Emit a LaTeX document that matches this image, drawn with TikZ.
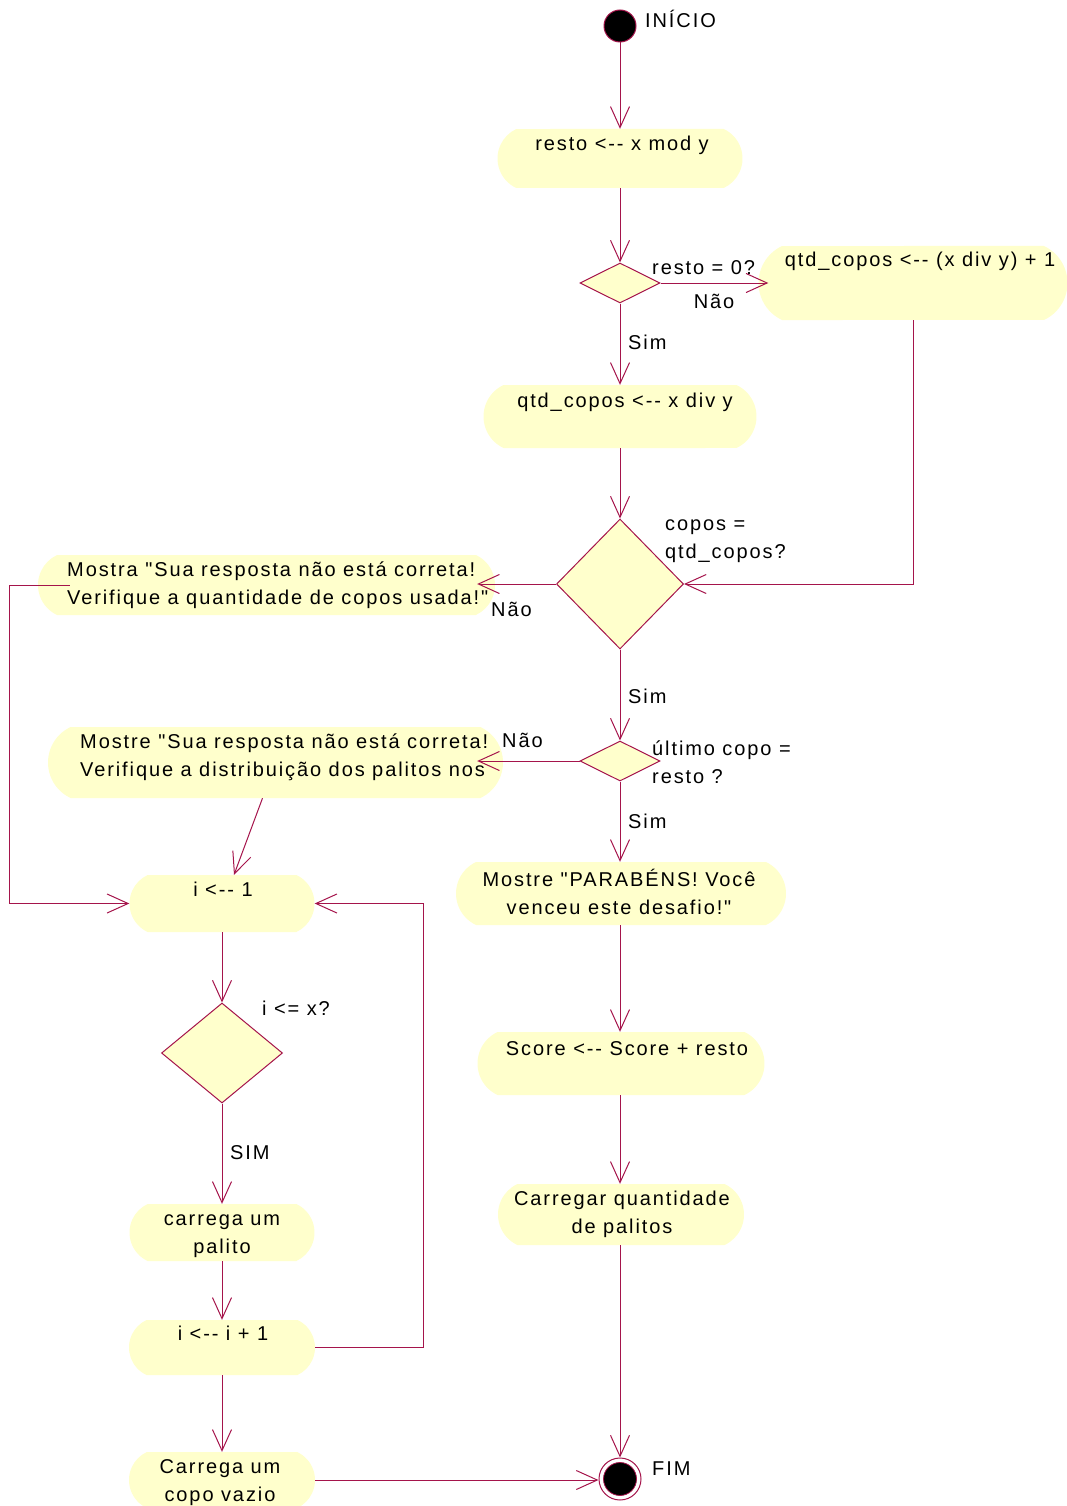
\documentclass[tikz,border=0pt]{standalone}
\usepackage{fontspec}
\newfontfamily\umlfont{Liberation Sans}[LetterSpace=9.5]
\usetikzlibrary{shapes.misc,shapes.geometric,arrows.meta}
\definecolor{umlline}{RGB}{165,20,75}
\definecolor{umlfill}{RGB}{255,255,204}
\newcommand\stackc[2]{\begin{tabular}[t]{@{}c@{}}#1\\#2\end{tabular}}
\newcommand\stackl[2]{\begin{tabular}[t]{@{}l@{}}#1\\#2\end{tabular}}

\begin{document}
\begin{tikzpicture}[x=1pt,y=-1pt,
  font=\umlfont\fontsize{20}{28}\selectfont,
  action/.style={rounded rectangle, rounded rectangle arc length=130,
    fill=umlfill, draw=none, inner sep=0pt},
  choice/.style={diamond, draw=umlline, fill=umlfill, line width=1pt, inner sep=0pt},
  txt/.style={inner sep=0pt, anchor=base},
  ltxt/.style={inner sep=0pt, anchor=base west},
  flow/.style={draw=umlline, line width=1pt, -{Straight Barb[length=21pt,width=19pt]}},
]
\fill[white] (0,0) rectangle (1066,1506);
\useasboundingbox (0,0) rectangle (1066,1506);

% ---- initial and final states
\node[circle, fill=black, draw=umlline, line width=1pt, minimum size=32pt, inner sep=0pt] (start) at (620,26) {};
\node[ltxt] (startlbl) at (645,28) {INÍCIO};

\node[circle, fill=white, draw=umlline, line width=1pt, minimum size=42pt, inner sep=0pt] (end) at (620,1479) {};
\node[circle, fill=black, draw=umlline, line width=0.8pt, minimum size=33pt, inner sep=0pt] (endcore) at (end) {};
\node[ltxt] (endlbl) at (652,1475) {FIM};

% ---- right column actions
\node[action, minimum width=245pt, minimum height=59pt] (a1) at (620,158.5) {};
\node[txt] (a1t) at (622,151) {resto <-- x mod y};

\node[action, minimum width=309pt, minimum height=74pt] (a2) at (913,283) {};
\node[txt] (a2t) at (920,266) {qtd\_copos <-- (x div y) + 1};

\node[action, minimum width=273pt, minimum height=63pt] (a3) at (620,416.5) {};
\node[txt] (a3t) at (625,407) {qtd\_copos <-- x div y};

\node[action, minimum width=457pt, minimum height=60pt] (a4) at (266.5,585) {};
\node[ltxt] (a4t) at (67,576) {\stackl{Mostra "Sua resposta não está correta!}{Verifique a quantidade de copos usada!"}};

\node[action, minimum width=455pt, minimum height=71pt] (a5) at (275.5,762.5) {};
\node[ltxt] (a5t) at (80,748) {\stackl{Mostre "Sua resposta não está correta!}{Verifique a distribuição dos palitos nos}};

\node[action, minimum width=330pt, minimum height=63pt] (a6) at (621,893.5) {};
\node[txt] (a6t) at (619,886) {\stackc{Mostre "PARABÉNS! Você}{venceu este desafio!"}};

\node[action, minimum width=287pt, minimum height=63pt] (a7) at (621,1063.5) {};
\node[txt] (a7t) at (627,1055) {Score <-- Score + resto};

\node[action, minimum width=246pt, minimum height=61pt] (a8) at (621,1214.5) {};
\node[txt] (a8t) at (622,1205) {\stackc{Carregar quantidade}{de palitos}};

% ---- decisions
\node[choice, minimum width=80pt, minimum height=40pt] (d1) at (620,283) {};
\node[ltxt] (d1q) at (652,274) {resto = 0?};
\node[choice, minimum width=127pt, minimum height=130pt] (d2) at (620,584) {};
\node[ltxt] (d2q) at (665,530) {\stackl{copos =}{qtd\_copos?}};
\node[choice, minimum width=80pt, minimum height=40pt] (d3) at (620,761) {};
\node[ltxt] (d3q) at (652,755) {\stackl{último copo =}{resto ?}};

% ---- left column (loop)
\node[action, minimum width=185pt, minimum height=57pt] (b1) at (222,903.5) {};
\node[txt] (b1t) at (223,896) {i <-- 1};
\node[choice, minimum width=121pt, minimum height=100pt] (db) at (222,1053) {};
\node[ltxt] (dbq) at (262,1015) {i <= x?};
\node[action, minimum width=185pt, minimum height=57pt] (b2) at (222,1232.5) {};
\node[txt] (b2t) at (222,1225) {\stackc{carrega um}{palito}};
\node[action, minimum width=186pt, minimum height=55pt] (b3) at (222,1347.5) {};
\node[txt] (b3t) at (223,1340) {i <-- i + 1};
\node[action, minimum width=186pt, minimum height=56pt] (b4) at (222,1480) {};
\node[txt] (b4t) at (220,1473) {\stackc{Carrega um}{copo vazio}};

% ---- transitions
\draw[flow] (start.south) -- (a1.north);
\draw[flow] (a1.south) -- (d1.north);
\draw[flow, shorten >=-10pt] (d1.east) -- (a2.west);
\node[txt] (no1) at (714,308) {Não};
\draw[flow] (d1.south) -- (a3.north);
\node[ltxt] (yes1) at (628,349) {Sim};
\draw[flow] (a3.south) -- (d2.north);
\draw[flow] (a2.south) |- (d2.east);
\draw[flow, shorten >=-18pt] (d2.west) -- (d2.west -| a4.east);
\node[ltxt] (no2) at (491,616) {Não};
\draw[flow] (d2.south) -- (d3.north);
\node[ltxt] (yes2) at (628,703) {Sim};
\draw[flow, shorten >=-26pt] (d3.west) -- (d3.west -| a5.east);
\node[ltxt] (no3) at (502,747) {Não};
\draw[flow] (d3.south) -- (d3.south |- a6.north);
\node[ltxt] (yes3) at (628,828) {Sim};
\draw[flow] (d3.south |- a6.south) -- (d3.south |- a7.north);
\draw[flow] (d3.south |- a7.south) -- (d3.south |- a8.north);
\draw[flow] (d3.south |- a8.south) -- (end.north);

\draw[flow] ([xshift=32pt]a4.west) -- ++(-60,0) |- (b1.west);
\draw[flow] ([xshift=-13pt]a5.south) -- ([xshift=12pt]b1.north);
\draw[flow] (b1.south) -- (db.north);
\draw[flow] (db.south) -- (b2.north);
\node[ltxt] (yes4) at (230,1159) {SIM};
\draw[flow] (b2.south) -- (b3.north);
\draw[flow] (b3.east) -- ++(108,0) |- (b1.east);
\draw[flow] (b3.south) -- (b4.north);
\draw[flow] (b4.east) -- (b4.east -| end.west);
\end{tikzpicture}
\end{document}
